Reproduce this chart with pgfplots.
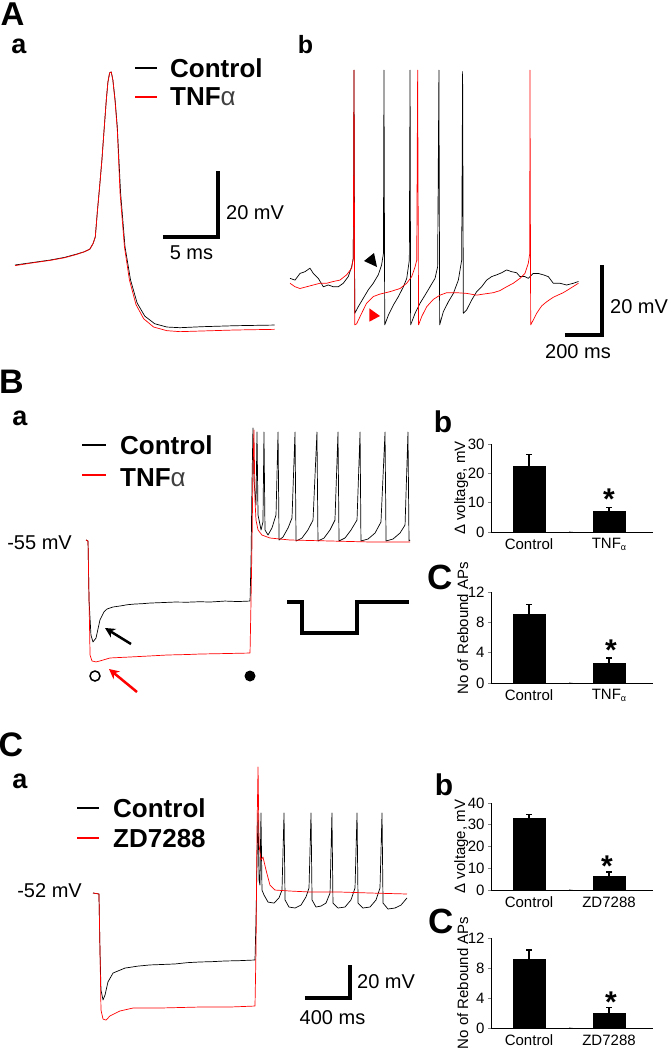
\documentclass[border=0pt]{standalone}
\usepackage{fontspec}
\setmainfont{Liberation Sans}
\usepackage{pgfplots}
\pgfplotsset{compat=1.18}
\usetikzlibrary{arrows.meta}

\newcommand{\fs}[1]{\fontsize{#1}{#1}\selectfont}

% traces: no axes, scale bars only
\pgfplotsset{
  trace/.style={hide axis, scale only axis, clip=false, anchor=north west,
    every axis plot/.append style={line width=0.7pt, line join=round, mark=none}},
  bars/.style={scale only axis, width=162pt, xmin=-0.475, xmax=1.55, ymin=0,
    anchor=south west, axis x line*=bottom, axis y line*=left,
    axis line style={line width=0.8pt}, xtick={0,1}, xtick style={draw=none},
    ytick style={line width=0.8pt}, tick align=outside, major tick length=3pt,
    tick label style={font=\fs{15}}, /pgf/number format/assume math mode=true,
    ylabel style={font=\fs{15}, inner sep=1pt}, ylabel shift=-5pt},
  barplot/.style={ybar, bar width=32pt, fill=black, draw=black,
    error bars/.cd, y dir=plus, y explicit,
    error bar style={line width=1.1pt, black},
    error mark options={rotate=90, line width=1.1pt, mark size=3pt, black}},
}

\begin{document}
\begin{tikzpicture}[x=1pt,y=1pt]
\path[use as bounding box] (0,0) rectangle (670,-1049);

% ---------------- panel labels
\begin{scope}[every node/.style={inner sep=0, font=\bfseries\fs{34}}]
\node[font=\bfseries\fs{33}] at (12.5,-14.5) {A};
\node at (11.5,-381.5) {B};
\node at (11,-745) {C};
\node[font=\bfseries\fs{35}] at (440,-577) {C};
\node[font=\bfseries\fs{35}] at (441,-921) {C};
\node[font=\bfseries\fs{27}] at (19,-46) {a};
\node[font=\bfseries\fs{25}] at (305.5,-45) {b};
\node[font=\bfseries\fs{27}] at (20,-418) {a};
\node[font=\bfseries\fs{27}] at (20,-781) {a};
\node[font=\bfseries\fs{30}] at (443,-422) {b};
\node[font=\bfseries\fs{30}] at (444,-785) {b};
\end{scope}

% ---------------- A a : single action potential
\begin{axis}[trace, at={(15pt,-67pt)}, width=264pt, height=297pt,
  xmin=0, xmax=24, ymin=-90, ymax=0]
\addplot[black] coordinates {(0,-60) (1.5,-59.3) (3.2,-58.5) (4.5,-57.7) (5.6,-56.7)
  (6.3,-56) (6.8,-55.2) (7.1,-53.5) (7.3,-51.5) (7.5,-43.3) (7.7,-36) (7.9,-28.2)
  (8.1,-19) (8.3,-10) (8.45,-4.5) (8.6,-1.8) (8.75,-1.5) (8.9,-4) (9.1,-10)
  (9.3,-18.2) (9.6,-38.2) (10.0,-54.5) (10.5,-64.5) (11.1,-71.5) (11.8,-75.5)
  (12.7,-77.8) (13.8,-78.8) (15,-79) (17,-78.7) (20,-78.4) (23.6,-78.2)};
\addplot[red] coordinates {(0,-60.2) (1.5,-59.4) (3.2,-58.6) (4.5,-57.8) (5.6,-56.8)
  (6.3,-56) (6.8,-55.2) (7.1,-53.5) (7.3,-51.5) (7.5,-43.3) (7.7,-36) (7.9,-28.2)
  (8.1,-19) (8.3,-10) (8.45,-4.5) (8.6,-1.8) (8.75,-1.5) (8.9,-4) (9.1,-10.5)
  (9.3,-19) (9.55,-38.2) (9.95,-54.5) (10.4,-64.5) (11.0,-72) (11.7,-76.3)
  (12.6,-78.8) (13.8,-79.9) (15,-80.2) (17,-80) (20,-79.7) (23.6,-79.5)};
\draw[line width=4pt] (axis cs:13.45,-51.5) -- (axis cs:18.45,-51.5) -- (axis cs:18.45,-31.5);
\end{axis}
\draw[line width=2.5pt] (135,-68) -- (157,-68);
\draw[line width=2.5pt, red] (135,-97) -- (157,-97);
\node[anchor=west, inner sep=0, font=\bfseries\fs{26}] at (170,-68) {Control};
\node[anchor=west, inner sep=0, font=\bfseries\fs{26}] at (170,-97) {TNF{\mdseries\color{black!75}α}};
\node[anchor=west, inner sep=0, font=\fs{20}] at (226,-213) {20 mV};
\node[inner sep=0, font=\fs{20}] at (191.5,-253) {5 ms};

% ---------------- A b : spike trains
\begin{axis}[trace, at={(290pt,-64.5pt)}, width=296pt, height=266pt,
  xmin=0, xmax=1600, ymin=-70, ymax=6]
\addplot[black] coordinates {(0,-55.1) (27,-55.6) (54,-53.7) (81,-53.2) (108,-52.2)
  (126,-53.7) (153,-55.1) (180,-57.5) (207,-57) (234,-57.5) (261,-57.5) (288,-56.5)
  (315,-54.6) (333,-51.8) (342,-49.4) (346,4.4) (350,-65.1) (369,-63.2) (396,-60.8)
  (423,-58.4) (450,-56.5) (477,-54.1) (495,-51.3) (505,-48) (508,4.4) (512,-68.4)
  (532,-65.6) (559,-62.7) (586,-60.3) (613,-57.5) (631,-55.1) (645,-49.9) (649,4.4)
  (652,-68.4) (676,-65.1) (703,-62.2) (730,-59.9) (757,-57.5) (784,-55.1) (798,-51.8)
  (805,4.4) (809,-68.4) (829,-64.6) (856,-61.8) (883,-59.4) (910,-55.6) (928,-49.9)
  (933,4.0) (937,-65.1) (955,-64.1) (982,-61.3) (1009,-58.9) (1036,-57.5) (1063,-55.6)
  (1090,-54.6) (1117,-54.1) (1144,-53.5) (1171,-52.7) (1198,-53.2) (1225,-53.5)
  (1243,-54.6) (1270,-54.6) (1288,-55.1) (1315,-53.7) (1342,-53.7) (1369,-54.1)
  (1396,-54.6) (1423,-56.5) (1459,-56.5) (1495,-57) (1532,-56.5) (1559,-56)};
\addplot[red] coordinates {(0,-56.5) (27,-57.5) (54,-58) (90,-57.5) (126,-57) (162,-56.5)
  (198,-56.5) (234,-56) (270,-55.6) (306,-54.1) (333,-52.2) (342,-49.4) (346,4.4)
  (350,-68.4) (360,-68.1) (387,-65.1) (414,-62.2) (450,-60.3) (486,-59.6) (541,-58.9)
  (595,-58) (631,-56.5) (658,-54.6) (676,-51.8) (685,-49.9) (690,4.4) (695,-68.4)
  (712,-66) (739,-63.2) (775,-61.1) (811,-59.9) (847,-59.2) (901,-59.2) (955,-59.4)
  (1009,-59.9) (1045,-59.6) (1099,-59.2) (1135,-58.6) (1171,-57.5) (1207,-56.5)
  (1243,-55.1) (1270,-53.7) (1288,-50.8) (1296,-48) (1297,4.4) (1301,-68.4)
  (1315,-67) (1333,-65.1) (1360,-63) (1387,-61.8) (1423,-60.5) (1477,-59.2)
  (1514,-58) (1559,-56.5)};
\draw[line width=4pt] (axis cs:1486,-71.3) -- (axis cs:1686,-71.3) -- (axis cs:1686,-51.3);
\end{axis}
\fill (364,-261) -- (374,-253) -- (377,-267) -- cycle;
\fill[red] (369.3,-308.3) -- (369.3,-321.7) -- (380,-316) -- cycle;
\node[anchor=west, inner sep=0, font=\fs{20}] at (610,-307) {20 mV};
\node[inner sep=0, font=\fs{20}] at (578,-352) {200 ms};

% ---------------- B a : hyperpolarising step, TNF
\begin{axis}[trace, at={(86pt,-424.5pt)}, width=326.25pt, height=247.5pt,
  xmin=0, xmax=2900, ymin=-135, ymax=15]
\addplot[black] coordinates {(0,-55) (18,-55.6) (27,-91.4) (44,-112.6) (62,-116.8)
  (89,-114.4) (124,-103.5) (160,-98.6) (187,-96.8) (240,-95.6) (302,-95) (370,-94.2)
  (436,-93.8) (500,-93.6) (569,-93.2) (650,-93) (720,-92.8) (791,-92.6) (900,-92.7)
  (1013,-92.4) (1100,-92.6) (1236,-92) (1350,-92.3) (1458,-92) (1467,-67.1)
  (1476,-18.6) (1484,12.9) (1493,-18.6) (1511,-33.8) (1520,10.4) (1529,-39.8)
  (1556,-48.9) (1573,-44.1) (1582,10.4) (1591,-48.9) (1618,-52) (1653,-47.7)
  (1689,-39.8) (1707,10.4) (1716,-55) (1751,-53.2) (1796,-47.7) (1831,-41.7)
  (1858,10.4) (1867,-55.6) (1920,-53.8) (1973,-48.9) (2018,-42.9) (2053,10.4)
  (2062,-55.6) (2116,-53.8) (2169,-48.9) (2213,-42.9) (2240,10.4) (2249,-55.6)
  (2302,-53.8) (2356,-48.9) (2409,-42.9) (2436,10.4) (2444,-55.6) (2507,-54.4)
  (2569,-50.8) (2622,-44.1) (2658,10.4) (2667,-55.6) (2729,-54.4) (2791,-50.8)
  (2836,-45.9) (2862,10.4) (2871,-55.6) (2880,-55)};
\addplot[red] coordinates {(0,-55) (18,-55.6) (27,-91.4) (36,-124.7) (53,-128.3)
  (89,-128.9) (124,-128.3) (213,-126.5) (391,-125.9) (560,-125.3) (720,-124.7)
  (900,-124.4) (1013,-124.1) (1250,-123.8) (1458,-123.5) (1467,-91.4) (1476,-55)
  (1484,-12.6) (1493,11.7) (1502,-30.8) (1511,-42.9) (1529,-48.9) (1564,-52)
  (1636,-53.8) (1813,-55) (2169,-55.6) (2524,-56.2) (2880,-56.2)};
\end{axis}
\draw[line width=2.5pt] (82,-445) -- (106,-445);
\draw[line width=2.5pt, red] (82,-475) -- (106,-475);
\node[anchor=west, inner sep=0, font=\bfseries\fs{26}] at (120,-445) {Control};
\node[anchor=west, inner sep=0, font=\bfseries\fs{26}] at (120,-478) {TNF{\mdseries\color{black!75}α}};
\node[anchor=east, inner sep=0, font=\fs{20}] at (72,-543) {-55 mV};
\draw[line width=3.3pt] (287,-602) -- (302,-602) -- (302,-633) -- (357,-633) -- (357,-602) -- (409,-602);
\draw[line width=2.5pt, -{Stealth[length=10pt,width=10pt]}] (131,-644) -- (105,-628);
\draw[line width=2.5pt, red, -{Stealth[length=10pt,width=10pt]}] (137,-692) -- (109,-669);
\draw[line width=1.5pt] (95,-676) circle (5);
\fill (250,-676) circle (5.5);

% ---------------- C a : hyperpolarising step, ZD7288
\begin{axis}[trace, at={(93pt,-757.7pt)}, width=326.25pt, height=272.25pt,
  xmin=0, xmax=2900, ymin=-135, ymax=30]
\addplot[black] coordinates {(0,-52) (53,-52.6) (62,-86.5) (71,-110.8) (89,-116.8)
  (107,-113.8) (133,-105.9) (178,-100.5) (284,-97.5) (400,-96.3) (507,-95.6)
  (620,-95.3) (729,-95) (840,-94.2) (951,-93.8) (1060,-93.6) (1173,-93.2)
  (1300,-93) (1440,-92.6) (1449,-68.4) (1458,-32) (1467,-3.5) (1476,-44.1)
  (1484,-47.2) (1493,-3.5) (1502,-50.2) (1520,-53.2) (1556,-57.5) (1609,-58.1)
  (1653,-55) (1680,-50.2) (1698,-3.5) (1707,-56.2) (1742,-60.5) (1796,-61.1)
  (1849,-59.3) (1893,-54.4) (1920,-49) (1938,-3.5) (1947,-56.2) (1982,-60.5)
  (2027,-59.9) (2071,-58.1) (2107,-52) (2124,-3.5) (2133,-58.1) (2178,-61.1)
  (2240,-60.5) (2293,-56.2) (2329,-49) (2347,-3.5) (2356,-58.1) (2400,-61.1)
  (2462,-60.5) (2516,-56.2) (2551,-49) (2569,-3.5) (2578,-58.1) (2622,-61.7)
  (2684,-61.1) (2738,-59.3) (2791,-55)};
\addplot[red] coordinates {(0,-52) (53,-52.6) (62,-86.5) (71,-122.9) (89,-128.4)
  (116,-129) (151,-126.5) (240,-123.5) (356,-121.7) (596,-121.7) (951,-121.1)
  (1218,-121.1) (1440,-120.5) (1449,-86.5) (1453,-52) (1458,-13.8) (1467,24.4)
  (1476,-22.9) (1493,-32) (1511,-30.2) (1538,-38.1) (1573,-47.2) (1618,-50.2)
  (1751,-50.8) (1929,-51.4) (2196,-51.4) (2462,-52) (2791,-52.6)};
\draw[line width=4pt] (axis cs:1884,-115.6) -- (axis cs:2284,-115.6) -- (axis cs:2284,-95.6);
\end{axis}
\draw[line width=2.5pt] (77,-808) -- (99,-808);
\draw[line width=2.5pt, red] (77,-838) -- (99,-838);
\node[anchor=west, inner sep=0, font=\bfseries\fs{26}] at (113,-808) {Control};
\node[anchor=west, inner sep=0, font=\bfseries\fs{26}] at (113,-839) {ZD7288};
\node[anchor=east, inner sep=0, font=\fs{20}] at (82,-891) {-52 mV};
\node[anchor=west, inner sep=0, font=\fs{20}] at (357,-982) {20 mV};
\node[inner sep=0, font=\fs{20}] at (332.5,-1018) {400 ms};

% ---------------- bar charts
\begin{axis}[bars, at={(491pt,-532pt)}, height=88pt, ymax=30, ytick={0,10,20,30},
  xticklabels={Control, TNF\raisebox{-2pt}{\fs{9}α}}, ylabel={Δ voltage, mV}]
\addplot[barplot] coordinates {(0,22.3) +- (0,4.0) (1,7.0) +- (0,1.5)};
\draw[line width=0.8pt] (axis cs:0.5,0) -- ++(0,-4pt);
\end{axis}
\node[inner sep=0, font=\bfseries\fs{30}] at (609,-499) {*};

\begin{axis}[bars, at={(491pt,-683pt)}, height=91pt, ymax=12, ytick={0,4,8,12},
  xticklabels={Control, TNF\raisebox{-2pt}{\fs{9}α}}, ylabel={No of Rebound APs},
  every axis y label/.append style={at={(ticklabel cs:0.6)}}]
\addplot[barplot] coordinates {(0,9.1) +- (0,1.3) (1,2.6) +- (0,0.7)};
\draw[line width=0.8pt] (axis cs:0.5,0) -- ++(0,-4pt);
\end{axis}
\node[inner sep=0, font=\bfseries\fs{30}] at (611,-650) {*};

\begin{axis}[bars, at={(491pt,-890pt)}, height=87pt, ymax=40, ytick={0,10,20,30,40},
  xticklabels={Control, ZD7288}, ylabel={Δ voltage, mV}]
\addplot[barplot] coordinates {(0,33.1) +- (0,1.8) (1,6.4) +- (0,1.9)};
\draw[line width=0.8pt] (axis cs:0.5,0) -- ++(0,-4pt);
\end{axis}
\node[inner sep=0, font=\bfseries\fs{30}] at (607,-866) {*};

\begin{axis}[bars, at={(491pt,-1028pt)}, height=90pt, ymax=12, ytick={0,4,8,12},
  xticklabels={Control, ZD7288}, ylabel={No of Rebound APs}]
\addplot[barplot] coordinates {(0,9.2) +- (0,1.2) (1,2.0) +- (0,0.7)};
\draw[line width=0.8pt] (axis cs:0.5,0) -- ++(0,-4pt);
\end{axis}
\node[inner sep=0, font=\bfseries\fs{30}] at (611,-1002) {*};

\end{tikzpicture}
\end{document}
